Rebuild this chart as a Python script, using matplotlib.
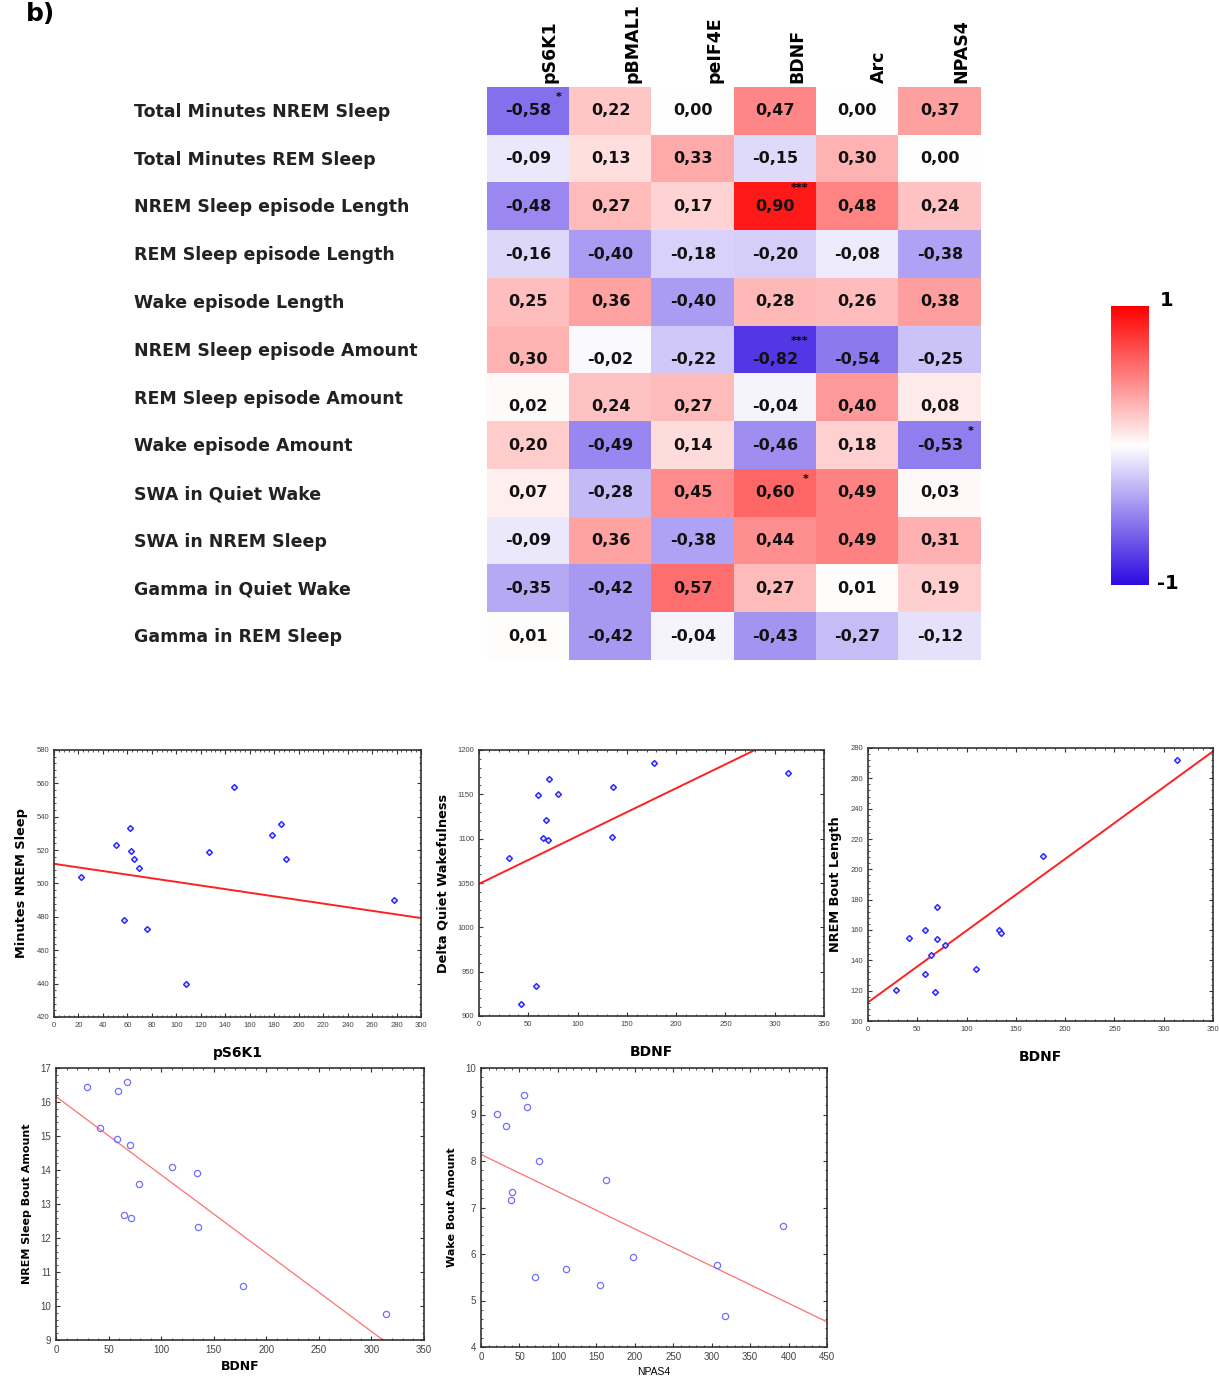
import numpy as np
import matplotlib
matplotlib.use('Agg')
import matplotlib.pyplot as plt
from matplotlib.colors import LinearSegmentedColormap
from matplotlib.ticker import MultipleLocator, AutoMinorLocator

# correlation table
proteins = ["pS6K1", "pBMAL1", "peIF4E", "BDNF", "Arc", "NPAS4"]
measures = ["Total Minutes NREM Sleep", "Total Minutes REM Sleep",
            "NREM Sleep episode Length", "REM Sleep episode Length",
            "Wake episode Length", "NREM Sleep episode Amount",
            "REM Sleep episode Amount", "Wake episode Amount",
            "SWA in Quiet Wake", "SWA in NREM Sleep",
            "Gamma in Quiet Wake", "Gamma in REM Sleep"]
corr = [
    [-0.58, 0.22, 0.00, 0.47, 0.00, 0.37],
    [-0.09, 0.13, 0.33, -0.15, 0.30, 0.00],
    [-0.48, 0.27, 0.17, 0.90, 0.48, 0.24],
    [-0.16, -0.40, -0.18, -0.20, -0.08, -0.38],
    [0.25, 0.36, -0.40, 0.28, 0.26, 0.38],
    [0.30, -0.02, -0.22, -0.82, -0.54, -0.25],
    [0.02, 0.24, 0.27, -0.04, 0.40, 0.08],
    [0.20, -0.49, 0.14, -0.46, 0.18, -0.53],
    [0.07, -0.28, 0.45, 0.60, 0.49, 0.03],
    [-0.09, 0.36, -0.38, 0.44, 0.49, 0.31],
    [-0.35, -0.42, 0.57, 0.27, 0.01, 0.19],
    [0.01, -0.42, -0.04, -0.43, -0.27, -0.12],
]
# (row, col, stars)
signif = [(0, 0, "*"), (2, 3, "***"), (5, 3, "***"), (7, 5, "*"), (8, 3, "*")]

# scatter panels
p1_x = [21.8, 51, 62.2, 63, 65.2, 69.3, 57, 76.4, 107.5, 126.5, 147.5, 178, 185.2, 189.8, 277.9]
p1_y = [503.8, 523.3, 533.5, 519.2, 514.8, 509.2, 477.9, 472.9, 439.7, 518.6, 557.7, 529.1, 535.7, 514.8, 490.0]
p1_fit = [511.8, 479.3]

p2_x = [30.8, 42.3, 57.9, 60.3, 65.3, 68.0, 70.4, 71.4, 79.9, 135.1, 136.1, 177.7, 313.8]
p2_y = [1078.2, 913.5, 934.2, 1148.9, 1100.8, 1121.1, 1098.9, 1167.3, 1150.4, 1102.3, 1157.9, 1185.3, 1174.4]
p2_fit = [1049, 1237.8]

p3_x = [28.7, 41.6, 57.5, 58.2, 63.6, 67.6, 70.0, 70.0, 78.1, 109.9, 132.9, 134.6, 177.2, 313.8]
p3_y = [120.7, 154.4, 159.9, 131.0, 143.6, 119.1, 175.0, 153.9, 150.2, 134.1, 159.9, 157.7, 209.1, 271.9]
p3_fit = [112.3, 277.8]

p4_x = [29.8, 41.5, 57.7, 59.3, 64.4, 67.8, 70.4, 71.0, 79.3, 110.3, 134.1, 135.4, 177.5, 313.9]
p4_y = [16.43, 15.25, 14.92, 16.33, 12.67, 16.60, 14.75, 12.59, 13.59, 14.08, 13.92, 12.33, 10.58, 9.76]
p4_fit = [16.16, 8.10]

p5_x = [20.4, 33.0, 38.7, 40.8, 56.0, 60.4, 70.8, 75.1, 109.9, 154.2, 162.5, 197.6, 306.7, 317.1, 392.2]
p5_y = [9.01, 8.75, 7.17, 7.34, 9.43, 9.17, 5.51, 8.00, 5.67, 5.34, 7.59, 5.93, 5.76, 4.67, 6.60]
p5_fit = [8.14, 4.54]

W, H = 1219, 1381
fig = plt.figure(figsize=(W / 100, H / 100), dpi=100)
plt.rcParams['font.family'] = ['DejaVu Sans']


def box(l, t, r, b):
    return [l / W, 1 - b / H, (r - l) / W, (b - t) / H]


cmap = LinearSegmentedColormap.from_list("bwr2", [(0.18, 0.04, 0.88), (1, 1, 1), (1, 0, 0)])

fig.text(26 / W, 1 - 2 / H, "b)", fontsize=18, fontweight='bold', va='top', ha='left')

# heatmap
ax = fig.add_axes(box(487, 87, 981, 660))
data = np.array(corr)
ax.imshow(data, cmap=cmap, vmin=-1, vmax=1, aspect='auto', interpolation='nearest')
ax.set_xlim(-0.5, len(proteins) - 0.5)
ax.set_ylim(len(measures) - 0.5, -0.5)
ax.axis('off')
row_shift = [0, 0, 0, 0, 0, 0.2, 0.2, 0, 0, 0, 0, 0]
for i in range(len(measures)):
    for j in range(len(proteins)):
        txt = ("%.2f" % data[i, j]).replace(".", ",").replace("-0,00", "0,00")
        ax.text(j, i + row_shift[i], txt, ha='center', va='center', fontsize=11.5,
                fontweight='bold', color='#111111')
for i, j, s in signif:
    if len(s) == 1:
        ax.text(j + 0.37, i - 0.3 + row_shift[i], s, ha='center', va='center', fontsize=8, fontweight='bold')
    else:
        ax.text(j + 0.3, i - 0.38 + row_shift[i], s, ha='center', va='center', fontsize=8, fontweight='bold')
for i, name in enumerate(measures):
    fig.text(134 / W, 1 - (112 + i * 47.75) / H, name, ha='left', va='center',
             fontsize=12.5, fontweight='bold', color='#222222')
for j, name in enumerate(proteins):
    fig.text((487 + 82.3 * j + 63) / W, 1 - 83 / H, name, rotation=90, ha='center', va='bottom',
             fontsize=12.5, fontweight='bold')

# colour bar
cax = fig.add_axes(box(1111, 306, 1149, 585))
grad = np.linspace(1, -1, 256).reshape(-1, 1)
cax.imshow(grad, cmap=cmap, vmin=-1, vmax=1, aspect='auto')
cax.axis('off')
fig.text(1160 / W, 1 - 300 / H, "1", fontsize=14, fontweight='bold', va='center', ha='left')
fig.text(1157 / W, 1 - 583 / H, "-1", fontsize=14, fontweight='bold', va='center', ha='left')


def scatter_panel(rect, xs, ys, fit, xlim, ylim, xstep, ystep, xlabel, ylabel, old_style,
                  xlab_bold=True):
    a = fig.add_axes(rect)
    if old_style:
        a.plot(xs, ys, 'D', ms=3, mfc='#d8d8ff', mec='#2020ff', mew=1.0, zorder=3)
        a.plot(xlim, fit, color='#ff2020', lw=1.4, zorder=2)
        tfs = 5.5
    else:
        a.plot(xs, ys, 'o', ms=4.5, mfc='none', mec='#7070ff', mew=0.9, zorder=3)
        a.plot(xlim, fit, color='#ff7070', lw=0.9, zorder=2)
        tfs = 7
    a.set_xlim(xlim)
    a.set_ylim(ylim)
    a.xaxis.set_major_locator(MultipleLocator(xstep))
    a.yaxis.set_major_locator(MultipleLocator(ystep))
    a.xaxis.set_minor_locator(AutoMinorLocator(5))
    a.yaxis.set_minor_locator(AutoMinorLocator(5))
    a.tick_params(which='both', direction='in', top=True, right=True, labelsize=tfs,
                  labelcolor='#444444', color='#333333')
    a.tick_params(which='major', length=3, width=0.8)
    a.tick_params(which='minor', length=1.5, width=0.6)
    for lbl in a.get_xticklabels() + a.get_yticklabels():
        lbl.set_family(['Liberation Sans', 'DejaVu Sans'])
    for sp in a.spines.values():
        sp.set_color('#333333')
        sp.set_linewidth(1.2)
    a.set_xlabel(xlabel, fontsize=10 if old_style else 9,
                 fontweight='bold' if xlab_bold else 'normal', labelpad=12 if old_style else 4)
    a.set_ylabel(ylabel, fontsize=9.3 if old_style else 8, fontweight='bold', labelpad=6)
    if not xlab_bold:
        a.xaxis.label.set_fontsize(7.5)
        a.xaxis.label.set_family(['Liberation Sans', 'DejaVu Sans'])
    return a


scatter_panel(box(54, 750, 421, 1017), p1_x, p1_y, p1_fit, (0, 300), (420, 580), 20, 20,
              "pS6K1", "Minutes NREM Sleep", True)
scatter_panel(box(479, 750, 824, 1016), p2_x, p2_y, p2_fit, (0, 350), (900, 1200), 50, 50,
              "BDNF", "Delta Quiet Wakefulness", True)
scatter_panel(box(868, 748, 1213, 1021), p3_x, p3_y, p3_fit, (0, 350), (100, 280), 50, 20,
              "BDNF", "NREM Bout Length", True)
scatter_panel(box(56, 1068, 424, 1340), p4_x, p4_y, p4_fit, (0, 350), (9, 17), 50, 1,
              "BDNF", "NREM Sleep Bout Amount", False)
scatter_panel(box(481, 1068, 827, 1347), p5_x, p5_y, p5_fit, (0, 450), (4, 10), 50, 1,
              "NPAS4", "Wake Bout Amount", False, xlab_bold=False)

fig.savefig("out.png", dpi=100)
